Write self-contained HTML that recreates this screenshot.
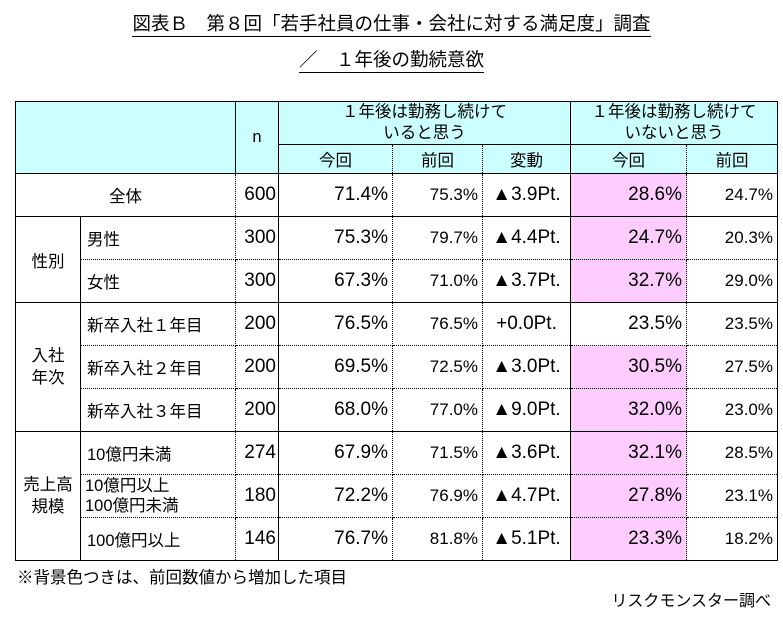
<!DOCTYPE html>
<html><head><meta charset="utf-8"><style>
body{margin:0;width:783px;height:617px;background:#fff;font-family:"Liberation Sans","Noto Sans CJK JP",sans-serif;color:#000;position:relative;overflow:hidden}
.t{position:absolute;left:0;width:783px;text-align:center;font-size:18.5px}
.t span{border-bottom:1.5px solid #000;padding-bottom:2px}
table{position:absolute;left:15px;top:101px;border-collapse:collapse;table-layout:fixed;font-size:16.5px}
td{border:1px solid #000;padding:0 6px;height:42px;white-space:nowrap}
tr.h2 td{height:28px}
.h{background:#ccffff;text-align:center}
.r{text-align:right;font-size:19px;padding-right:4px}.c{text-align:center}
.v{font-size:19px}
.p{background:#ffccff}
.r.s{font-size:17px}
.dl{border-left:1px dotted #000}.dr{border-right:1px dotted #000}
.db{border-bottom:1px dotted #000}.dt{border-top:1px dotted #000}
</style></head><body>
<div class="t" style="top:10px"><span>図表Ｂ　第８回「若手社員の仕事・会社に対する満足度」調査</span></div>
<div class="t" style="top:46px"><span>／　１年後の勤続意欲</span></div>
<table>
<colgroup><col style="width:65px"><col style="width:155px"><col style="width:43px"><col style="width:114px"><col style="width:90px"><col style="width:88px"><col style="width:116px"><col style="width:91px"></colgroup>
<tr style="height:43px"><td class="h dr" colspan="2" rowspan="2"></td><td class="h" rowspan="2" style="padding:0">n</td><td class="h" colspan="3" style="line-height:21px;height:42px">１年後は勤務し続けて<br>いると思う</td><td class="h" colspan="2" style="line-height:21px">１年後は勤務し続けて<br>いないと思う</td></tr>
<tr class="h2"><td class="h dr">今回</td><td class="h dl dr">前回</td><td class="h dl">変動</td><td class="h dr">今回</td><td class="h dl">前回</td></tr>
<tr><td colspan="2" class="c dr">全体</td><td class="r dl" style="padding:0 2px">600</td><td class="r dr">71.4%</td><td class="r s dl dr">75.3%</td><td class="c v dl">▲3.9Pt.</td><td class="r p dr">28.6%</td><td class="r s dl">24.7%</td></tr>
<tr><td rowspan="2" class="c">性別</td><td class="dr db">男性</td><td class="r dl db" style="padding:0 2px">300</td><td class="r dr db">75.3%</td><td class="r s dl dr db">79.7%</td><td class="c v dl db">▲4.4Pt.</td><td class="r p dr db">24.7%</td><td class="r s dl db">20.3%</td></tr>
<tr><td class="dr dt">女性</td><td class="r dl dt" style="padding:0 2px">300</td><td class="r dr dt">67.3%</td><td class="r s dl dr dt">71.0%</td><td class="c v dl dt">▲3.7Pt.</td><td class="r p dr dt">32.7%</td><td class="r s dl dt">29.0%</td></tr>
<tr><td rowspan="3" class="c" style="line-height:22px">入社<br>年次</td><td class="dr db">新卒入社１年目</td><td class="r dl db" style="padding:0 2px">200</td><td class="r dr db">76.5%</td><td class="r s dl dr db">76.5%</td><td class="c v dl db">+0.0Pt.</td><td class="r dr db">23.5%</td><td class="r s dl db">23.5%</td></tr>
<tr><td class="dr db dt">新卒入社２年目</td><td class="r dl db dt" style="padding:0 2px">200</td><td class="r dr db dt">69.5%</td><td class="r s dl dr db dt">72.5%</td><td class="c v dl db dt">▲3.0Pt.</td><td class="r p dr db dt">30.5%</td><td class="r s dl db dt">27.5%</td></tr>
<tr><td class="dr dt">新卒入社３年目</td><td class="r dl dt" style="padding:0 2px">200</td><td class="r dr dt">68.0%</td><td class="r s dl dr dt">77.0%</td><td class="c v dl dt">▲9.0Pt.</td><td class="r p dr dt">32.0%</td><td class="r s dl dt">23.0%</td></tr>
<tr><td rowspan="3" class="c" style="line-height:22px">売上高<br>規模</td><td class="dr db">10億円未満</td><td class="r dl db" style="padding:0 2px">274</td><td class="r dr db">67.9%</td><td class="r s dl dr db">71.5%</td><td class="c v dl db">▲3.6Pt.</td><td class="r p dr db">32.1%</td><td class="r s dl db">28.5%</td></tr>
<tr><td class="dr db dt" style="line-height:20px;padding-left:4px">10億円以上<br>100億円未満</td><td class="r dl db dt" style="padding:0 2px">180</td><td class="r dr db dt">72.2%</td><td class="r s dl dr db dt">76.9%</td><td class="c v dl db dt">▲4.7Pt.</td><td class="r p dr db dt">27.8%</td><td class="r s dl db dt">23.1%</td></tr>
<tr><td class="dr dt">100億円以上</td><td class="r dl dt" style="padding:0 2px">146</td><td class="r dr dt">76.7%</td><td class="r s dl dr dt">81.8%</td><td class="c v dl dt">▲5.1Pt.</td><td class="r p dr dt">23.3%</td><td class="r s dl dt">18.2%</td></tr>
</table>
<div style="position:absolute;left:17px;top:564px;font-size:16.5px">※背景色つきは、前回数値から増加した項目</div>
<div style="position:absolute;right:12px;top:587px;font-size:16px">リスクモンスター調べ</div>
</body></html>
